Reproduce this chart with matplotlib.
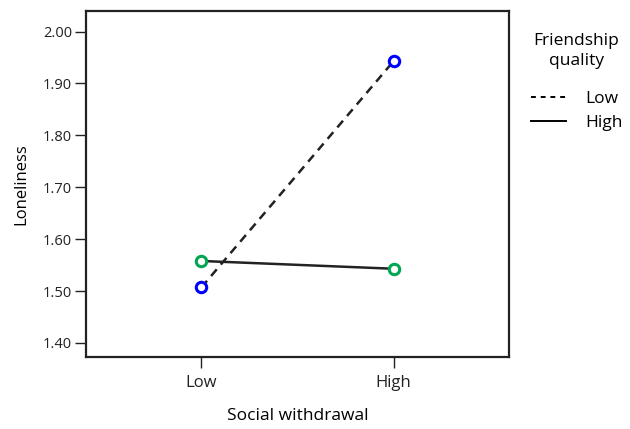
import matplotlib
matplotlib.use("Agg")
import matplotlib.pyplot as plt
from matplotlib.lines import Line2D

categories = ["Low", "High"]
low_fq = [1.507, 1.943]
high_fq = [1.558, 1.543]
yticks = [1.40, 1.50, 1.60, 1.70, 1.80, 1.90, 2.00]

plt.rcParams['font.family'] = ['Open Sans', 'DejaVu Sans']

fig = plt.figure(figsize=(6.3, 4.29), dpi=100)
ax = fig.add_axes([86/630, 1 - 357/429, 423/630, 346/429])

x = list(range(len(categories)))
ax.plot(x, low_fq, color='#222222', linestyle=(0, (3.5, 2.5)), linewidth=1.8, zorder=2)
ax.plot(x, high_fq, color='#222222', linestyle='-', linewidth=1.8, zorder=2)
ax.plot(x, low_fq, linestyle='none', marker='o', markersize=7.5, markerfacecolor='white',
        markeredgecolor='#0000ff', markeredgewidth=2.2, zorder=3)
ax.plot(x, high_fq, linestyle='none', marker='o', markersize=7.5, markerfacecolor='white',
        markeredgecolor='#00a651', markeredgewidth=2.2, zorder=3)

ax.set_xlim(-0.6, 1.6)
ax.set_ylim(1.373, 2.0395)
ax.set_xticks(x)
ax.set_xticklabels(categories, fontsize=12)
ax.set_yticks(yticks)
ax.set_yticklabels([f"{v:.2f}" for v in yticks], fontsize=10.5)
ax.tick_params(direction='out', length=8, width=1, pad=2, colors='#222222')
ax.tick_params(axis='x', pad=5)
for s in ax.spines.values():
    s.set_linewidth(1.6)
    s.set_color('#222222')

ax.set_xlabel("Social withdrawal", fontsize=12.5, labelpad=12)
ax.set_ylabel("Loneliness", fontsize=12, labelpad=10)

handles = [Line2D([0], [0], color='black', linestyle=(0, (2.5, 2.5)), linewidth=1.4),
           Line2D([0], [0], color='black', linestyle='-', linewidth=1.4)]
leg = fig.legend(handles, ["Low", "High"], title="Friendship\nquality",
                 loc='upper left', bbox_to_anchor=(531/630, 1 - 33/429), frameon=False,
                 fontsize=12.5, title_fontsize=12.5, handlelength=2.0, handletextpad=1.1,
                 labelspacing=0.45, borderaxespad=0, borderpad=0)
leg.get_title().set_multialignment('center')
leg.get_title().set_linespacing(1.3)
leg._legend_box.sep = 16

fig.savefig("out.png", dpi=100)
